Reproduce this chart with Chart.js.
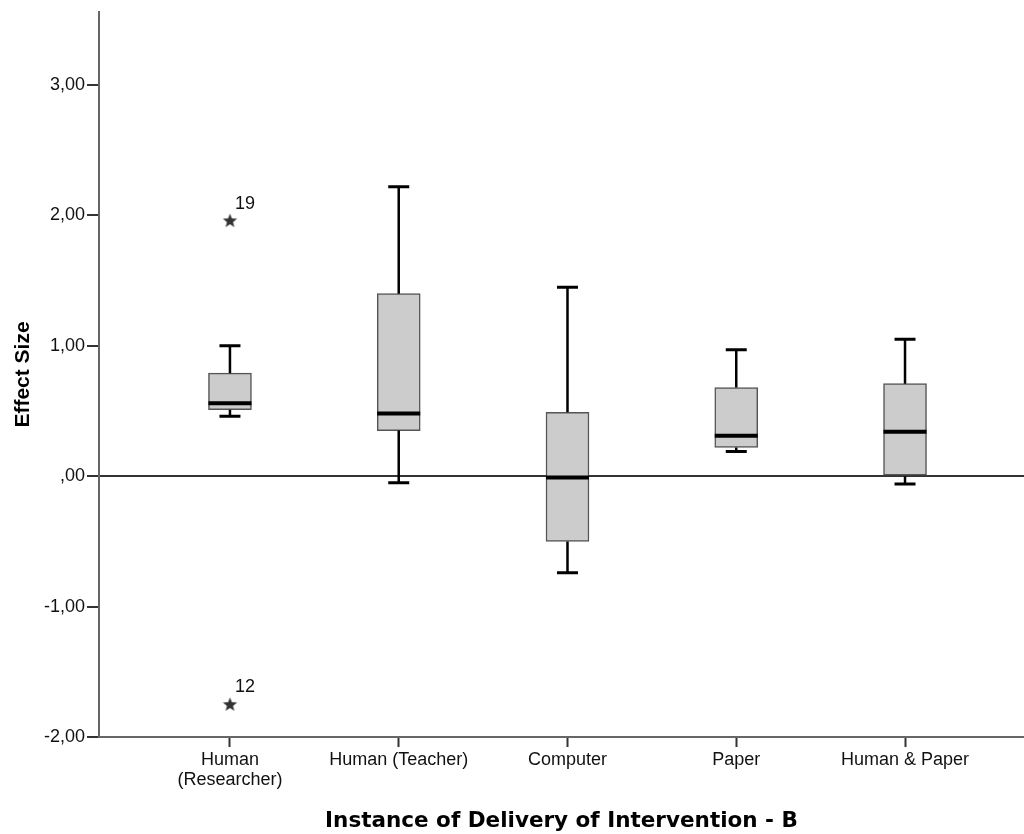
<!DOCTYPE html>
<html>
<head>
<meta charset="utf-8">
<script src="https://cdn.jsdelivr.net/npm/chart.js@4"></script>
<style>
  html, body { margin: 0; padding: 0; background: #fff; }
  #wrap { width: 1024px; height: 834px; }
</style>
</head>
<body>
<div id="wrap"><canvas id="box"></canvas></div>
<script>
var categories = [["Human", "(Researcher)"], "Human (Teacher)", "Computer", "Paper", "Human & Paper"];
var lowerWhisker = [0.46, -0.05, -0.74, 0.19, -0.06];
var q1 = [0.51, 0.35, -0.50, 0.22, 0.00];
var median = [0.56, 0.48, -0.01, 0.31, 0.34];
var q3 = [0.79, 1.40, 0.49, 0.68, 0.71];
var upperWhisker = [1.00, 2.22, 1.45, 0.97, 1.05];
// extreme values: group index, value, case number
var outlierGroup = [0, 0];
var outlierValue = [1.96, -1.75];
var outlierCase = ["19", "12"];
var yTicks = [-2, -1, 0, 1, 2, 3];

var FONT = '"Liberation Sans", Arial, sans-serif';

// small filled star used for extreme values
function starImage() {
  var c = document.createElement("canvas");
  c.width = 17; c.height = 17;
  var g = c.getContext("2d");
  g.fillStyle = "#333";
  g.beginPath();
  for (var i = 0; i < 10; i++) {
    var r = i % 2 === 0 ? 7.5 : 3.2;
    var a = -Math.PI / 2 + i * Math.PI / 5;
    var px = 8.5 + r * Math.cos(a), py = 8.9 + r * Math.sin(a);
    if (i === 0) g.moveTo(px, py); else g.lineTo(px, py);
  }
  g.closePath();
  g.fill();
  return c;
}

// no extra room around the axes, the plot runs to the canvas edge
function noPadding(s) {
  s.paddingLeft = 0; s.paddingRight = 0;
  s.paddingTop = 0; s.paddingBottom = 0;
}

// whiskers, medians and case labels
var boxParts = {
  id: "boxParts",
  afterDatasetsDraw: function (chart) {
    var ctx = chart.ctx, xs = chart.scales.x, ys = chart.scales.y;
    var boxW = 43, capW = 21;
    ctx.save();
    ctx.strokeStyle = "#000";
    categories.forEach(function (c, i) {
      var cx = xs.getPixelForValue(i);
      var yLo = ys.getPixelForValue(lowerWhisker[i]);
      var yHi = ys.getPixelForValue(upperWhisker[i]);
      var yQ1 = ys.getPixelForValue(q1[i]);
      var yQ3 = ys.getPixelForValue(q3[i]);
      var yMed = ys.getPixelForValue(median[i]);
      ctx.lineWidth = 2.5;
      ctx.beginPath();
      ctx.moveTo(cx, yQ3); ctx.lineTo(cx, yHi);
      ctx.moveTo(cx, yQ1); ctx.lineTo(cx, yLo);
      ctx.stroke();
      ctx.lineWidth = 3;
      ctx.beginPath();
      ctx.moveTo(cx - capW / 2, yHi); ctx.lineTo(cx + capW / 2, yHi);
      ctx.moveTo(cx - capW / 2, yLo); ctx.lineTo(cx + capW / 2, yLo);
      ctx.stroke();
      ctx.lineWidth = 4;
      ctx.beginPath();
      ctx.moveTo(cx - boxW / 2, yMed); ctx.lineTo(cx + boxW / 2, yMed);
      ctx.stroke();
    });
    ctx.fillStyle = "#111";
    ctx.font = "18px " + FONT;
    ctx.textAlign = "left";
    ctx.textBaseline = "alphabetic";
    outlierValue.forEach(function (v, k) {
      var px = xs.getPixelForValue(outlierGroup[k]);
      var py = ys.getPixelForValue(v);
      ctx.fillText(outlierCase[k], px + 5, py - 12);
    });
    ctx.restore();
  }
};

new Chart(document.getElementById("box"), {
  type: "bar",
  data: {
    datasets: [
      {
        label: "box",
        data: categories.map(function (c, i) { return { x: i, y: [q1[i], q3[i]] }; }),
        backgroundColor: "#cccccc",
        borderColor: "#555",
        borderWidth: 1.5,
        borderSkipped: false,
        barThickness: 43
      },
      {
        type: "scatter",
        label: "extremes",
        data: outlierValue.map(function (v, k) { return { x: outlierGroup[k], y: v }; }),
        pointStyle: starImage(),
        pointRadius: 8
      }
    ]
  },
  options: {
    responsive: true,
    maintainAspectRatio: false,
    animation: false,
    events: [],
    layout: { autoPadding: false, padding: { top: 12, left: 0, right: 0, bottom: 0 } },
    plugins: { legend: { display: false }, tooltip: { enabled: false } },
    scales: {
      x: {
        type: "linear",
        min: -0.776,
        max: 4.705,
        offset: false,
        afterBuildTicks: function (s) {
          s.ticks = categories.map(function (c, i) { return { value: i }; });
        },
        afterFit: function (s) { s.height = 97; noPadding(s); },
        grid: { offset: false, drawOnChartArea: false, tickLength: 10, tickWidth: 2, tickColor: "#333" },
        border: { color: "#666", width: 2 },
        ticks: {
          autoSkip: false,
          maxRotation: 0,
          padding: 3,
          color: "#111",
          font: { family: FONT, size: 18, lineHeight: 1.1 },
          callback: function (v, i) { return categories[i]; }
        },
        title: {
          display: true,
          text: "Instance of Delivery of Intervention - B",
          color: "#000",
          font: { family: '"DejaVu Sans", sans-serif', size: 21.5, weight: "bold" },
          padding: { top: 0, bottom: 0 }
        }
      },
      y: {
        min: -2,
        max: 3.56,
        afterBuildTicks: function (s) {
          s.ticks = yTicks.map(function (v) { return { value: v }; });
        },
        afterFit: function (s) { s.width = 99; noPadding(s); },
        grid: {
          drawOnChartArea: true,
          lineWidth: 2,
          color: function (c) { return c.tick && c.tick.value === 0 ? "#333" : "rgba(0,0,0,0)"; },
          tickLength: 12,
          tickWidth: 2,
          tickColor: "#333"
        },
        border: { color: "#666", width: 2 },
        ticks: {
          padding: 2,
          color: "#111",
          font: { family: FONT, size: 18 },
          callback: function (v) { return v.toFixed(2).replace(".", ",").replace(/^0/, ""); }
        },
        title: {
          display: true,
          text: "Effect Size",
          color: "#000",
          font: { family: FONT, size: 21, weight: "bold" },
          padding: { top: 11, bottom: 0 }
        }
      }
    }
  },
  plugins: [boxParts]
});
</script>
</body>
</html>
